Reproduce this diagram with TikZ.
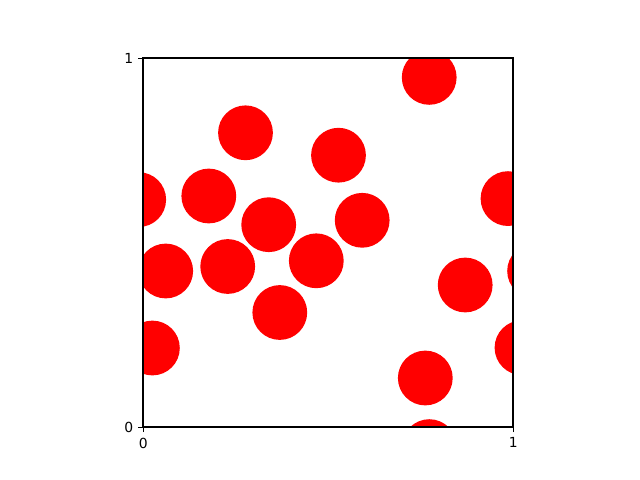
\documentclass[tikz,border=0pt]{standalone}
\usepackage{fontspec}
\setmainfont{DejaVu Sans}
\begin{document}
\begin{tikzpicture}[x=0.72pt,y=-0.72pt,
  blob/.style={fill=red},
  frame/.style={line width=1.5pt},
  tickmark/.style={line width=0.6pt},
  ticklabel/.style={font=\fontsize{10}{12}\selectfont, inner sep=0pt}]
\useasboundingbox (0,0) rectangle (640,480);
\coordinate (ll) at (143.3,427.3);
\coordinate (ur) at (513.3,58.3);
\begin{scope}
\clip (ll) rectangle (ur);
\foreach \cx/\cy in {429.2/77.4, 245.5/132.8, 338.5/155.2, 138.7/199.6, 208.8/196,
  268.7/224.7, 362.2/220.3, 508/198.6, 165.7/271, 227.7/266.5, 316.3/260.8,
  465.2/285, 279.8/312.5, 534.6/271, 152.4/348, 522/347.7, 425.3/378, 429.3/446.6}
  \fill[blob] (\cx,\cy) circle[radius=19.72pt];
\end{scope}
% ticks
\coordinate (tl0) at (138.4,427.3);
\coordinate (tl1) at (138.4,58.3);
\coordinate (tb0) at (143.3,432.2);
\coordinate (tb1) at (513.3,432.2);
\coordinate (ul) at (143.3,58.3);
\coordinate (lr) at (513.3,427.3);
\draw[tickmark] (tl0) -- (ll);
\draw[tickmark] (tl1) -- (ul);
\draw[tickmark] (tb0) -- (ll);
\draw[tickmark] (tb1) -- (lr);
\node[ticklabel, anchor=east] (ly0) at (133.5,427.3) {0};
\node[ticklabel, anchor=east] (ly1) at (133.5,58.3) {1};
\node[ticklabel, anchor=north] (lx0) at (143.3,437.5) {0};
\node[ticklabel, anchor=north] (lx1) at (513.3,437.5) {1};
\draw[frame, line join=miter] (ll) rectangle (ur);
\end{tikzpicture}
\end{document}
